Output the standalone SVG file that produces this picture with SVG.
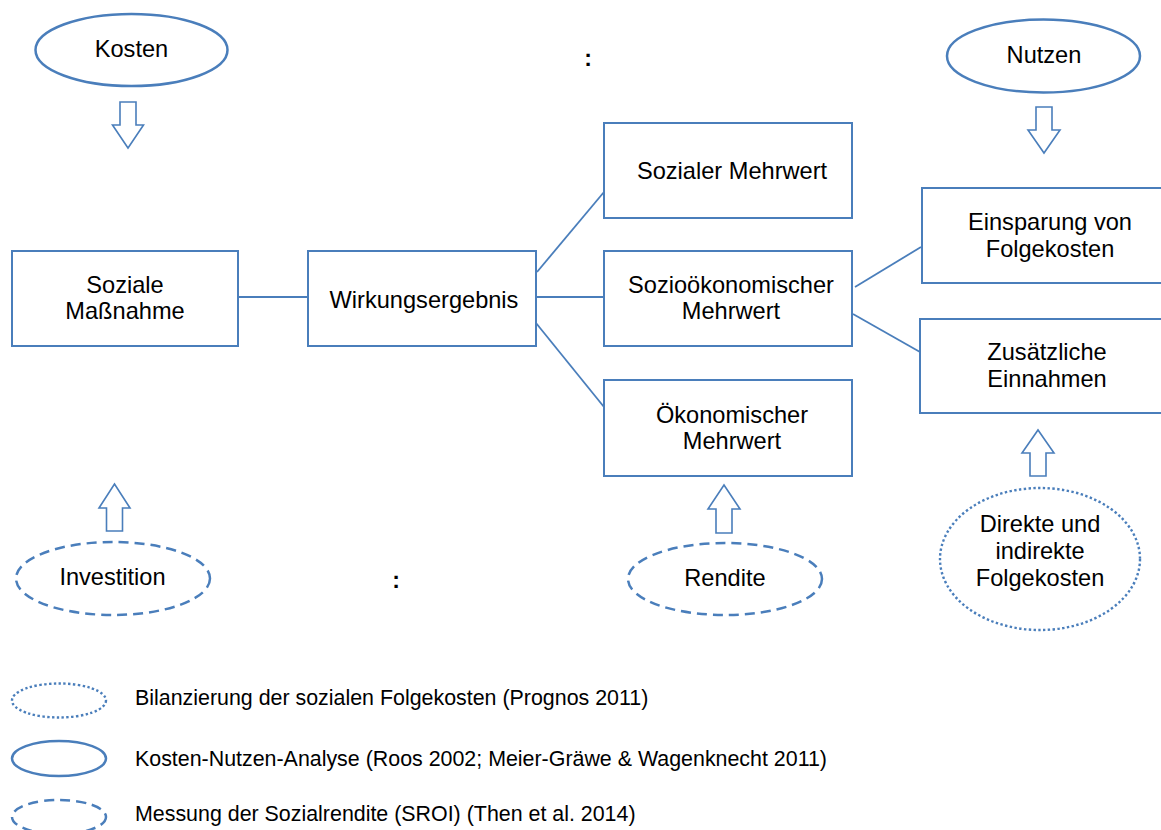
<svg xmlns="http://www.w3.org/2000/svg" width="1161" height="830" viewBox="0 0 1161 830">
<style>
.box{fill:#fff;stroke:#4A7EBB;stroke-width:2}
.ell{fill:#fff;stroke:#4A7EBB;stroke-width:2.5}
.dash{stroke-dasharray:10 6}
.dot{stroke-dasharray:2.4 2.4;stroke-width:2.4}
.arr{fill:#fff;stroke:#4A7EBB;stroke-width:1.6;stroke-linejoin:miter}
.ln{stroke:#4A7EBB;stroke-width:1.8;fill:none}
text{font-family:"Liberation Sans",Arial,sans-serif;font-size:23.6px;fill:#000;text-anchor:middle}
.lg{font-size:21.4px;text-anchor:start}
.col{font-weight:bold;font-size:23px}
</style>
<rect width="1161" height="830" fill="#fff"/>
<g id="connectors">
<line class="ln" x1="238" y1="297" x2="308" y2="297"/>
<line class="ln" x1="537" y1="272" x2="604" y2="192"/>
<line class="ln" x1="536" y1="297" x2="604" y2="297"/>
<line class="ln" x1="536" y1="323" x2="604" y2="407"/>
<line class="ln" x1="855" y1="287" x2="921" y2="247"/>
<line class="ln" x1="853" y1="314" x2="920" y2="352"/>
</g>
<g id="kosten"><ellipse class="ell" cx="131.5" cy="50" rx="96" ry="36"/><text x="131.5" y="57">Kosten</text></g>
<g id="arrow-kosten"><polygon class="arr" points="120,102 136,102 136,125 143.5,125 128,148 112.5,125 120,125"/></g>
<g id="nutzen"><ellipse class="ell" cx="1043.5" cy="56" rx="96.5" ry="36.5"/><text x="1044" y="63">Nutzen</text></g>
<g id="arrow-nutzen"><polygon class="arr" points="1036,107 1052,107 1052,130 1060,130 1044,153 1028,130 1036,130"/></g>
<g id="colon-top"><text class="col" x="588" y="66">:</text></g>
<g id="soziale-massnahme"><rect class="box" x="12" y="251" width="226" height="95"/><text x="125" y="293">Soziale</text><text x="125" y="319">Maßnahme</text></g>
<g id="wirkungsergebnis"><rect class="box" x="308" y="251" width="228" height="95"/><text x="424" y="308">Wirkungsergebnis</text></g>
<g id="sozialer-mehrwert"><rect class="box" x="604" y="123" width="248" height="95"/><text x="732" y="179">Sozialer Mehrwert</text></g>
<g id="soziooekonomischer-mehrwert"><rect class="box" x="604" y="251" width="248" height="95"/><text x="731" y="293">Sozioökonomischer</text><text x="731" y="319">Mehrwert</text></g>
<g id="oekonomischer-mehrwert"><rect class="box" x="604" y="380" width="248" height="96"/><text x="732" y="423">Ökonomischer</text><text x="732" y="449">Mehrwert</text></g>
<g id="einsparung"><rect class="box" x="922" y="188" width="250" height="95"/><text x="1050" y="230">Einsparung von</text><text x="1050" y="257">Folgekosten</text></g>
<g id="zusaetzliche-einnahmen"><rect class="box" x="920" y="319" width="250" height="94"/><text x="1047" y="360">Zusätzliche</text><text x="1047" y="387">Einnahmen</text></g>
<g id="arrow-investition"><polygon class="arr" points="106.5,531 122.5,531 122.5,508 130,508 114.5,484 99,508 106.5,508"/></g>
<g id="investition"><ellipse class="ell dash" cx="113" cy="578.5" rx="97" ry="36.5"/><text x="112.5" y="585">Investition</text></g>
<g id="colon-bottom"><text class="col" x="396" y="588">:</text></g>
<g id="arrow-rendite"><polygon class="arr" points="716,533 732,533 732,509 740,509 724,485 708,509 716,509"/></g>
<g id="rendite"><ellipse class="ell dash" cx="725" cy="579" rx="97" ry="36"/><text x="725" y="586">Rendite</text></g>
<g id="arrow-folgekosten"><polygon class="arr" points="1030,476 1046,476 1046,453 1054,453 1038,430 1022,453 1030,453"/></g>
<g id="direkte-folgekosten"><ellipse class="ell dot" cx="1040" cy="559" rx="100" ry="71"/><text x="1040" y="532">Direkte und</text><text x="1040" y="559">indirekte</text><text x="1040" y="586">Folgekosten</text></g>
<g id="legend">
<ellipse class="ell dot" cx="59" cy="700.5" rx="47" ry="17"/>
<text class="lg" x="135" y="705">Bilanzierung der sozialen Folgekosten (Prognos 2011)</text>
<ellipse class="ell" cx="59" cy="758.5" rx="47" ry="17.5"/>
<text class="lg" x="135" y="766">Kosten-Nutzen-Analyse (Roos 2002; Meier-Gräwe &amp; Wagenknecht 2011)</text>
<ellipse class="ell dash" cx="59" cy="817" rx="47" ry="17"/>
<text class="lg" x="135" y="821">Messung der Sozialrendite (SROI) (Then et al. 2014)</text>
</g>
</svg>
